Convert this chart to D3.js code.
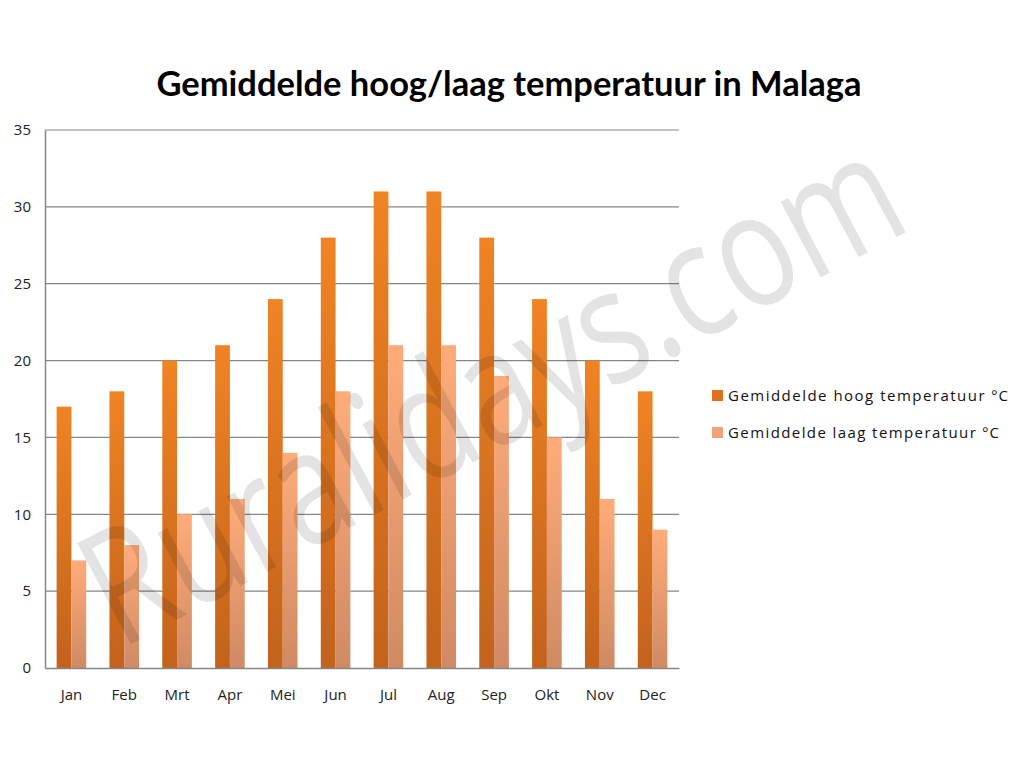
<!DOCTYPE html>
<html><head><meta charset="utf-8">
<script src="https://cdn.jsdelivr.net/npm/d3@7"></script>
<style>body{margin:0;background:#fff}svg{display:block}</style>
</head><body>
<script>
const months = ["Jan","Feb","Mrt","Apr","Mei","Jun","Jul","Aug","Sep","Okt","Nov","Dec"];
const highTemps = [17,18,20,21,24,28,31,31,28,24,20,18];
const lowTemps = [7,8,10,11,14,18,21,21,19,15,11,9];
const seriesNames = ["Gemiddelde hoog temperatuur ºC","Gemiddelde laag temperatuur ºC"];
const yTicks = [0,5,10,15,20,25,30,35];
const title = "Gemiddelde hoog/laag temperatuur in Malaga";

const W=1024,H=768;
const svg=d3.select("body").append("svg").attr("width",W).attr("height",H);
const defs=svg.append("defs");
function grad(id,c1,c2){
  const g=defs.append("linearGradient").attr("id",id).attr("x1",0).attr("y1",0).attr("x2",0).attr("y2",1);
  g.append("stop").attr("offset","0%").attr("stop-color",c1);
  g.append("stop").attr("offset","100%").attr("stop-color",c2);
}
grad("gHigh","#F08424","#C2621C");
grad("gLow","#FFAC7A","#CF8A64");
const colorsLegend=["#E0701E","#F4A07A"];

const pL=45,pR=679,pT=130,pB=668;
const x=d3.scaleBand().domain(months).range([pL,pR]).paddingInner(0.44).paddingOuter(0.22);
const xs=d3.scaleBand().domain([0,1]).range([0,x.bandwidth()]);
const y=d3.scaleLinear().domain([0,35]).range([pB,pT]);

// gridlines
svg.append("g").selectAll("line").data(yTicks.filter(d=>d>0)).join("line")
 .attr("x1",pL).attr("x2",pR).attr("y1",d=>y(d)).attr("y2",d=>y(d))
 .attr("stroke","#868686").attr("stroke-width",1.2);

// bars
const data=months.map((m,i)=>({m,v:[highTemps[i],lowTemps[i]]}));
const grp=svg.append("g").selectAll("g").data(data).join("g").attr("transform",d=>`translate(${x(d.m)},0)`);
grp.selectAll("rect").data(d=>d.v.map((v,k)=>({v,k}))).join("rect")
 .attr("x",d=>xs(d.k)).attr("width",xs.bandwidth())
 .attr("y",d=>y(d.v)).attr("height",d=>pB-y(d.v))
 .attr("fill",d=>d.k===0?"url(#gHigh)":"url(#gLow)");

// axes
const yAxis=d3.axisLeft(y).tickValues(yTicks).tickSize(0).tickPadding(14);
const ya=svg.append("g").attr("transform",`translate(${pL},0)`).call(yAxis);
ya.select(".domain").attr("stroke","#868686").attr("stroke-width",1.5);
ya.selectAll("text").attr("font-family","'Open Sans',sans-serif").attr("font-size",15).attr("fill","#222");
const xAxis=d3.axisBottom(x).tickSize(0).tickPadding(21);
const xa=svg.append("g").attr("transform",`translate(0,${pB})`).call(xAxis);
xa.select(".domain").attr("stroke","#868686").attr("stroke-width",1.5);
xa.selectAll("text").attr("font-family","'Open Sans',sans-serif").attr("font-size",15).attr("fill","#222");

// title
svg.append("text").attr("x",509).attr("y",96).attr("text-anchor","middle")
 .attr("font-family","Lato,sans-serif").attr("font-weight","bold").attr("font-size",34.5)
 .attr("fill","#000").text(title);

// legend
const legendLen=[280,271];
const lg=svg.append("g").selectAll("g").data(seriesNames).join("g")
 .attr("transform",(d,i)=>`translate(712,${396+i*37})`);
lg.append("rect").attr("x",0).attr("y",-6).attr("width",11).attr("height",11).attr("fill",(d,i)=>colorsLegend[i]);
lg.append("text").attr("x",16).attr("y",5).attr("font-family","'Open Sans',sans-serif").attr("font-size",15)
 .attr("textLength",(d,i)=>legendLen[i]).attr("lengthAdjust","spacing")
 .attr("fill","#111").text(d=>d);

// watermark
svg.append("text").attr("transform","translate(120,650) rotate(-28)")
 .attr("font-family","'Open Sans',sans-serif").attr("font-size",160)
 .attr("textLength",900).attr("lengthAdjust","spacingAndGlyphs")
 .attr("fill","#000").attr("fill-opacity",0.11).text("Ruralidays.com");
</script>
</body></html>
